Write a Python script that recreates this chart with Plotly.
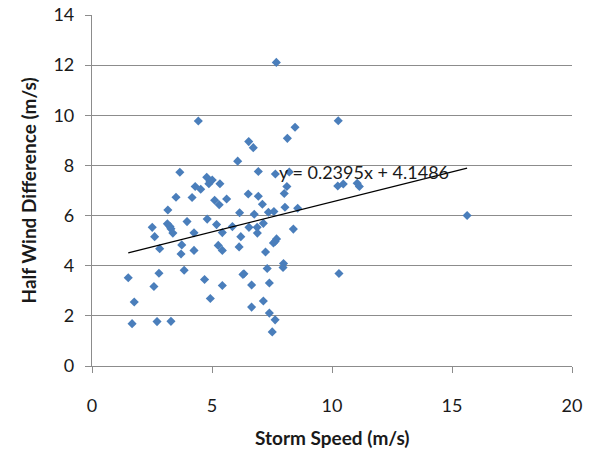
import plotly.graph_objects as go

storm_speed = [7.68, 4.43, 10.26, 8.46, 8.14, 6.53, 6.72, 6.07, 3.66, 6.93,
               7.64, 8.22, 4.78, 5.01, 4.92, 4.87, 5.33, 4.30, 4.53, 8.12,
               8.01, 10.24, 10.47, 11.05, 11.14, 3.50, 4.17, 6.51, 6.93, 5.11,
               5.30, 5.61, 7.10, 3.16, 8.04, 8.57, 6.15, 6.76, 7.35, 7.58,
               2.51, 3.14, 3.25, 3.29, 3.37, 2.61, 3.96, 4.80, 5.19, 4.25,
               5.43, 2.82, 3.74, 3.71, 4.25, 5.26, 5.43, 5.85, 6.54, 6.88,
               7.14, 6.89, 6.20, 6.13, 8.39, 7.69, 7.63, 7.56, 7.23, 7.98,
               7.96, 7.30, 1.51, 2.79, 3.84, 2.58, 1.76, 4.69, 4.93, 1.67,
               2.71, 3.29, 5.43, 6.33, 6.29, 6.65, 7.39, 6.65, 7.14, 7.39,
               7.63, 7.51, 10.29, 15.63]
half_wind_diff = [12.11, 9.77, 9.78, 9.52, 9.08, 8.95, 8.71, 8.17, 7.73, 7.76,
                  7.66, 7.74, 7.53, 7.42, 7.36, 7.27, 7.27, 7.16, 7.05, 7.16,
                  6.88, 7.18, 7.26, 7.29, 7.16, 6.73, 6.72, 6.86, 6.77, 6.61,
                  6.43, 6.66, 6.45, 6.22, 6.33, 6.29, 6.11, 6.05, 6.13, 6.16,
                  5.53, 5.67, 5.56, 5.47, 5.30, 5.16, 5.76, 5.86, 5.64, 5.31,
                  5.32, 4.68, 4.83, 4.47, 4.61, 4.81, 4.61, 5.56, 5.53, 5.53,
                  5.69, 5.30, 5.16, 4.75, 5.46, 5.07, 4.97, 4.91, 4.55, 4.09,
                  3.93, 3.89, 3.52, 3.70, 3.82, 3.17, 2.55, 3.45, 2.69, 1.69,
                  1.77, 1.78, 3.21, 3.68, 3.65, 3.23, 3.31, 2.35, 2.59, 2.11,
                  1.84, 1.36, 3.69, 6.00]

slope = 0.2395
intercept = 4.1486
trend_label = "y = 0.2395x + 4.1486"
x_title = "Storm Speed (m/s)"
y_title = "Half Wind Difference (m/s)"

x_min, x_max = min(storm_speed), max(storm_speed)
trend_x = [x_min, x_max]
trend_y = [slope * v + intercept for v in trend_x]

FONT = "Lato"
grid = "#8c8c8c"
txt = "#1a1a1a"

fig = go.Figure()
fig.add_trace(go.Scatter(
    x=storm_speed, y=half_wind_diff, mode="markers",
    marker=dict(symbol="diamond", size=7, color="#4a7ebb", line=dict(width=0)),
    showlegend=False, hoverinfo="skip"))
fig.add_trace(go.Scatter(
    x=trend_x, y=trend_y, mode="lines",
    line=dict(color="black", width=1.2),
    showlegend=False, hoverinfo="skip"))

fig.add_annotation(
    x=7.71, y=7.74, xref="x", yref="y", text=trend_label, showarrow=False,
    xanchor="left", yanchor="middle",
    font=dict(family=FONT, size=18, color=txt))

fig.add_annotation(
    x=0.5, y=0, xref="paper", yref="paper", yshift=-71, text="<b>" + x_title + "</b>",
    showarrow=False, xanchor="center", yanchor="middle",
    font=dict(family=FONT, size=19, color=txt))
fig.add_annotation(
    x=0, y=0.5, xref="paper", yref="paper", xshift=-64, text="<b>" + y_title + "</b>",
    showarrow=False, xanchor="center", yanchor="middle", textangle=-90,
    font=dict(family=FONT, size=19, color=txt))

fig.update_layout(
    width=602, height=455, autosize=False,
    margin=dict(l=92, r=30, t=15, b=89, autoexpand=False),
    paper_bgcolor="white", plot_bgcolor="white",
    font=dict(family=FONT, size=17, color=txt),
    xaxis=dict(
        range=[0, 20], dtick=5, tick0=0, showgrid=False, zeroline=False,
        showline=True, linecolor=grid, linewidth=1.2, automargin=False,
        ticks="outside", ticklen=6, tickcolor=grid, tickwidth=1.2,
        ticklabelstandoff=17,
        tickfont=dict(family=FONT, size=18, color=txt)),
    yaxis=dict(
        range=[0, 14], dtick=2, tick0=0, showgrid=True, gridcolor=grid,
        gridwidth=1.2, zeroline=False, automargin=False,
        showline=True, linecolor=grid, linewidth=1.2,
        ticks="outside", ticklen=6, tickcolor=grid, tickwidth=1.2,
        ticklabelstandoff=7,
        tickfont=dict(family=FONT, size=18, color=txt)),
)

fig.write_html("out.html")
